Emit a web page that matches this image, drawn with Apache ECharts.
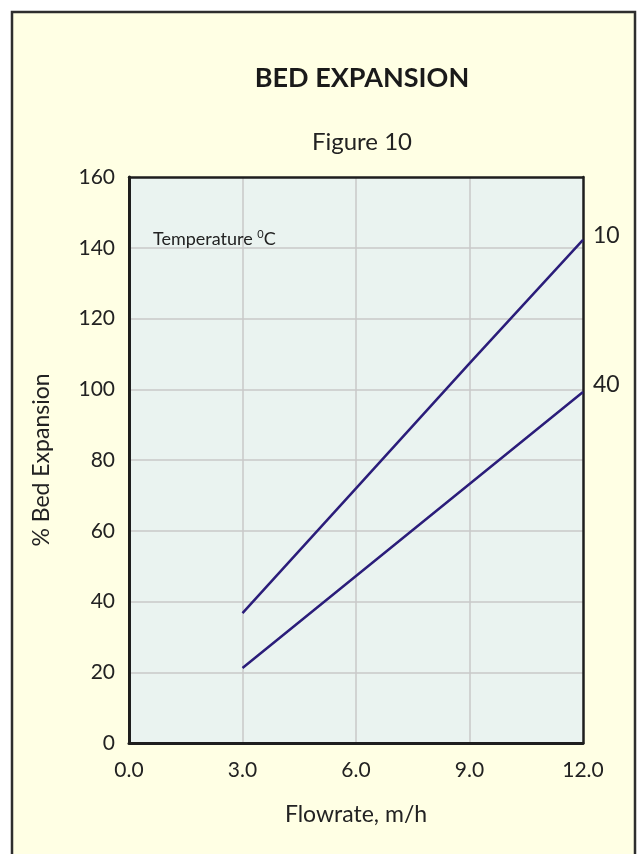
<!DOCTYPE html>
<html><head><meta charset="utf-8">
<script src="https://cdn.jsdelivr.net/npm/echarts@6/dist/echarts.min.js"></script>
<style>html,body{margin:0;padding:0;background:#fff;}#c{width:643px;height:854px;}</style>
</head><body><div id="c"></div>
<script>
const flowrate = [3.0, 6.0, 9.0, 12.0];
const exp10C = [36.7, 72.0, 107.3, 142.2];
const exp40C = [21.2, 47.2, 73.2, 99.2];
const seriesNames = ['10', '40'];
const FONT = 'Lato, "Open Sans", sans-serif';

const chart = echarts.init(document.getElementById('c'));
const mk = (name, ys, off) => ({
  name, type: 'line', data: flowrate.map((x, i) => [x, ys[i]]),
  symbol: 'none', lineStyle: {color: '#2b1d7a', width: 2.5},
  endLabel: {show: true, formatter: '{a}', color: '#222', fontSize: 23, fontFamily: FONT, distance: 10, offset: [0, off]}
});
const edgeAxis = {show: true, onZero: false, lineStyle: {color: '#1e1e1e', width: 2.5}};
chart.setOption({
  backgroundColor: '#ffffff',
  animation: false,
  graphic: [
    {type: 'rect', shape: {x: 12, y: 12, width: 623, height: 850}, style: {fill: '#FFFFE4', stroke: '#2e2e2e', lineWidth: 2.5}, z: -10},
    {type: 'text', left: 153, top: 229, style: {text: '{a|Temperature }{s|0}{a|C}', rich: {a: {fontSize: 18, fontFamily: FONT, fill: '#222'}, s: {fontSize: 11, fontFamily: FONT, fill: '#222', verticalAlign: 'top', padding: [0, 0, 9, 0]}}}, z: 10}
  ],
  title: [
    {text: 'BED EXPANSION', left: 357, top: 60, textAlign: 'center', textStyle: {fontSize: 27, fontWeight: 'bold', color: '#1a1a1a', fontFamily: FONT}},
    {text: 'Figure 10', left: 357, top: 125, textAlign: 'center', textStyle: {fontSize: 24, fontWeight: 'normal', color: '#222', fontFamily: FONT}}
  ],
  grid: {left: 129, right: 60, top: 177, bottom: 111, show: true, backgroundColor: '#EAF3F0', borderWidth: 0},
  xAxis: [{
    type: 'value', min: 0, max: 12, interval: 3,
    name: 'Flowrate, m/h', nameLocation: 'middle', nameGap: 60,
    nameTextStyle: {fontSize: 23, color: '#222', fontFamily: FONT},
    axisLine: {show: true, onZero: false, lineStyle: {color: '#1e1e1e', width: 3}},
    axisTick: {show: false},
    axisLabel: {fontSize: 21, color: '#222', fontFamily: FONT, margin: 17, formatter: v => v.toFixed(1)},
    splitLine: {show: true, showMinLine: false, showMaxLine: false, lineStyle: {color: '#c9c9c9', width: 1.5}}
  }, {
    type: 'value', position: 'top', min: 0, max: 12, interval: 3,
    axisLine: edgeAxis, axisTick: {show: false}, axisLabel: {show: false}, splitLine: {show: false}
  }],
  yAxis: [{
    type: 'value', min: 0, max: 160, interval: 20,
    name: '% Bed Expansion', nameLocation: 'middle', nameGap: 76,
    nameTextStyle: {fontSize: 23, color: '#222', fontFamily: FONT},
    axisLine: {show: true, onZero: false, lineStyle: {color: '#1e1e1e', width: 3}},
    axisTick: {show: false},
    axisLabel: {fontSize: 21, color: '#222', fontFamily: FONT, margin: 14},
    splitLine: {show: true, showMinLine: false, showMaxLine: false, lineStyle: {color: '#c9c9c9', width: 1.5}}
  }, {
    type: 'value', position: 'right', min: 0, max: 160, interval: 20,
    axisLine: edgeAxis, axisTick: {show: false}, axisLabel: {show: false}, splitLine: {show: false}
  }],
  series: [mk(seriesNames[0], exp10C, -4), mk(seriesNames[1], exp40C, -8)]
});
</script></body></html>
